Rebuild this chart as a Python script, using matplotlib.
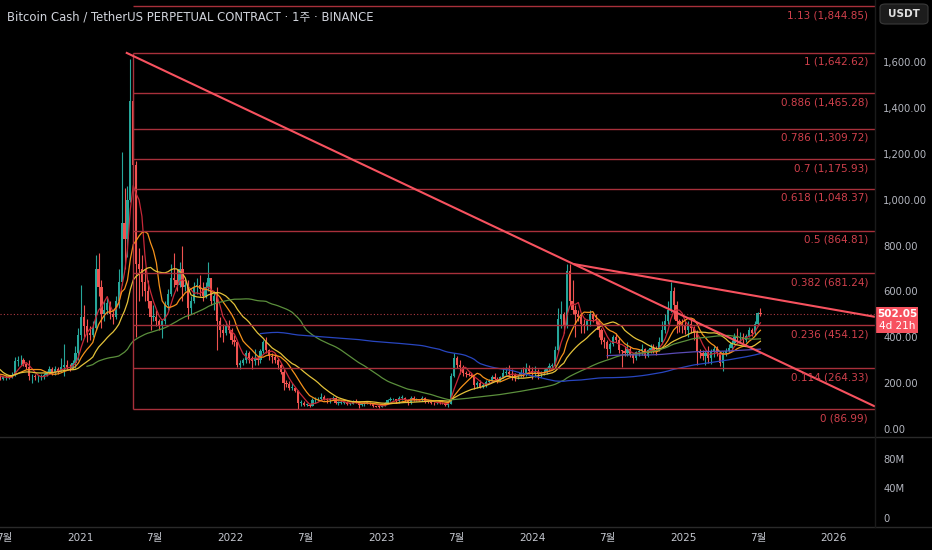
import matplotlib
matplotlib.use("Agg")
import matplotlib.pyplot as plt
import matplotlib.dates as mdates
from matplotlib.lines import Line2D
from matplotlib.patches import Rectangle, FancyBboxPatch
import numpy as np
import pandas as pd

##################################################
#-----------------Chart data----------------------
##################################################

first_week = "2019-12-02"      # weekly candles, Monday open
first_open = 215

closes = [
    210, 195, 190, 195, 235,                     # 2019 Dec
    270, 345, 330, 385,                          # 2020 Jan
    420, 460, 380, 330,                          # Feb
    250, 200, 220, 225, 240,                     # Mar
    240, 230, 250, 275,                          # Apr
    240, 235, 230, 245,                          # May
    240, 230, 225, 220, 225,                     # Jun
    225, 225, 235, 295,                          # Jul
    300, 300, 285, 270, 230,                     # Aug
    230, 225, 225, 230,                          # Sep
    235, 245, 260, 245,                          # Oct
    260, 255, 270, 280, 270,                     # Nov
    265, 290, 330, 410,                          # Dec
    490, 450, 420, 410,                          # 2021 Jan
    440, 700, 620, 500,                          # Feb
    520, 550, 500, 490, 560,                     # Mar
    640, 900, 830, 1000,                         # Apr
    1430, 1150, 720, 700, 640,                   # May
    600, 560, 490, 490,                          # Jun
    470, 450, 470, 540,                          # Jul
    590, 660, 650, 630, 700,                     # Aug
    620, 630, 530, 560,                          # Sep
    620, 630, 610, 580,                          # Oct
    620, 660, 560, 580, 470,                     # Nov
    430, 420, 450, 430,                          # Dec
    390, 380, 280, 290, 300,                     # 2022 Jan
    330, 310, 295, 310,                          # Feb
    300, 340, 380, 345,                          # Mar
    320, 315, 300, 280,                          # Apr
    250, 200, 195, 180, 180,                     # May
    165, 115, 115, 105,                          # Jun
    105, 100, 125, 125,                          # Jul
    130, 140, 130, 125, 130,                     # Aug
    135, 115, 115, 115,                          # Sep
    117, 110, 110, 120, 118,                     # Oct
    105, 108, 115, 115,                          # Nov
    110, 100, 98, 97,                            # Dec
    100, 115, 125, 130, 130,                     # 2023 Jan
    120, 135, 135, 125,                          # Feb
    115, 135, 125, 130,                          # Mar
    125, 135, 120, 118,                          # Apr
    115, 112, 115, 113, 112,                     # May
    105, 110, 230, 310,                          # Jun
    280, 270, 245, 240, 235,                     # Jul
    230, 190, 200, 185,                          # Aug
    190, 205, 210, 225,                          # Sep
    220, 210, 225, 245, 250,                     # Oct
    240, 235, 225, 230,                          # Nov
    245, 240, 265, 255,                          # Dec
    240, 250, 240, 245, 250,                     # 2024 Jan
    260, 275, 280, 345,                          # Feb
    480, 500, 450, 690,                          # Mar
    560, 520, 500, 490, 460,                     # Apr
    450, 470, 500, 480,                          # May
    470, 430, 390, 380,                          # Jun
    350, 370, 400, 390, 345,                     # Jul
    340, 330, 350, 325,                          # Aug
    310, 335, 340, 350, 320,                     # Sep
    345, 355, 345, 340,                          # Oct
    380, 430, 470, 520,                          # Nov
    600, 540, 470, 460, 450,                     # Dec
    430, 460, 440, 420,                          # 2025 Jan
    340, 330, 320, 330,                          # Feb
    310, 340, 350, 330, 290,                     # Mar
    330, 340, 355, 375,                          # Apr
    400, 395, 400, 390,                          # May
    405, 430, 420, 460, 505,                     # Jun
    502.05,                                      # Jul
]

highs = [
    235, 215, 200, 210, 245,
    285, 365, 360, 400,
    440, 500, 470, 390,
    350, 270, 240, 245, 255,
    255, 245, 255, 285,
    270, 255, 245, 250,
    265, 245, 235, 235, 230,
    235, 235, 250, 315,
    320, 325, 310, 290, 300,
    240, 240, 235, 240,
    245, 255, 275, 270,
    275, 270, 310, 370, 300,
    285, 300, 360, 440,
    630, 540, 480, 450,
    470, 760, 770, 650,
    560, 570, 560, 520, 580,
    700, 1210, 1050, 1060,
    1615, 1480, 1170, 790, 760,
    700, 650, 560, 540,
    520, 480, 480, 560,
    610, 720, 770, 700, 730,
    800, 660, 650, 580,
    640, 660, 670, 640,
    640, 730, 660, 600, 620,
    490, 460, 470, 475,
    440, 410, 385, 300, 310,
    345, 340, 320, 350,
    320, 350, 390, 400,
    350, 330, 330, 310,
    290, 260, 215, 210, 200,
    185, 170, 125, 120,
    115, 110, 135, 140,
    140, 155, 150, 135, 135,
    145, 140, 120, 125,
    122, 120, 115, 125, 130,
    120, 112, 118, 120,
    118, 112, 102, 102,
    105, 118, 130, 140, 135,
    132, 145, 150, 140,
    130, 145, 142, 135,
    132, 145, 140, 125,
    120, 118, 118, 118, 118,
    115, 115, 245, 330,
    320, 300, 280, 255, 250,
    245, 235, 210, 215,
    200, 215, 220, 235,
    245, 225, 230, 265, 270,
    280, 260, 245, 240,
    260, 270, 290, 280,
    270, 275, 260, 255, 260,
    270, 290, 290, 360,
    530, 560, 510, 720,
    720, 650, 540, 520, 500,
    480, 480, 520, 510,
    500, 480, 440, 400,
    390, 380, 410, 420, 400,
    345, 360, 380, 360,
    330, 340, 350, 370, 355,
    350, 370, 370, 360,
    400, 470, 500, 560,
    640, 620, 560, 480, 480,
    470, 470, 480, 450,
    430, 350, 345, 340,
    360, 350, 360, 360, 340,
    340, 355, 370, 390,
    420, 440, 425, 420,
    415, 445, 440, 470, 510,
    528,
]

lows = [
    200, 185, 170, 185, 190,
    225, 265, 310, 320,
    375, 400, 350, 310,
    240, 140, 185, 205, 215,
    220, 215, 220, 240,
    225, 220, 215, 225,
    235, 220, 215, 212, 212,
    215, 218, 222, 230,
    275, 280, 275, 260, 215,
    200, 215, 205, 215,
    220, 230, 240, 235,
    235, 240, 255, 230, 260,
    255, 260, 265, 300,
    390, 400, 380, 390,
    400, 430, 580, 440,
    470, 500, 480, 460, 480,
    530, 630, 700, 750,
    990, 1000, 400, 560, 580,
    560, 530, 430, 470,
    450, 430, 395, 460,
    520, 580, 620, 600, 620,
    560, 600, 480, 500,
    550, 590, 580, 560,
    570, 600, 540, 520, 345,
    400, 380, 410, 420,
    370, 360, 270, 260, 280,
    290, 290, 260, 280,
    280, 290, 330, 330,
    300, 290, 290, 260,
    240, 170, 185, 170, 170,
    160, 88, 100, 100,
    100, 95, 100, 115,
    120, 125, 125, 115, 115,
    125, 110, 105, 110,
    110, 105, 105, 108, 112,
    92, 100, 100, 110,
    106, 95, 95, 93,
    96, 100, 112, 120, 125,
    115, 115, 128, 118,
    105, 110, 120, 122,
    120, 122, 115, 112,
    110, 105, 110, 110, 108,
    100, 98, 108, 225,
    265, 240, 230, 225, 230,
    225, 175, 180, 180,
    180, 185, 200, 205,
    210, 200, 208, 222, 235,
    225, 215, 210, 220,
    225, 225, 230, 240,
    220, 225, 220, 225, 235,
    240, 255, 260, 275,
    340, 440, 420, 440,
    540, 500, 400, 470, 420,
    420, 430, 450, 465,
    460, 400, 370, 355,
    310, 330, 360, 380, 330,
    270, 320, 320, 315,
    290, 300, 320, 325, 310,
    315, 330, 330, 325,
    340, 370, 420, 460,
    510, 480, 420, 425, 420,
    415, 400, 420, 390,
    280, 310, 300, 280,
    290, 285, 315, 320, 275,
    255, 320, 335, 345,
    370, 385, 380, 375,
    380, 400, 405, 410, 455,
    495,
]

ma_windows = [5, 10, 20, 60, 120, 240]
ma_colors = ["#c62838", "#f5921b", "#e3c23a", "#5b8f3c", "#2846c0", "#5a4bb6"]

fib_ratios = [0, 0.114, 0.236, 0.382, 0.5, 0.618, 0.7, 0.786, 0.886, 1, 1.13]
fib_prices = [86.99, 264.33, 454.12, 681.24, 864.81, 1048.37, 1175.93,
              1309.72, 1465.28, 1642.62, 1844.85]
fib_start = "2021-05-10"

trend_down = (["2021-04-22", "2024-04-10"], [1642.62, 720])
trend_top = (["2024-04-10", "2025-07-07"], [720, 577])

price_ticks = [0, 200, 400, 600, 800, 1000, 1200, 1400, 1600]
vol_ticks = [0, 40e6, 80e6]
vol_labels = ["0", "40M", "80M"]
time_ticks = ["2020-07-01", "2021-01-01", "2021-07-01", "2022-01-01", "2022-07-01",
              "2023-01-01", "2023-07-01", "2024-01-01", "2024-07-01", "2025-01-01",
              "2025-07-01", "2026-01-01"]
time_labels = ["7월", "2021", "7월", "2022", "7월", "2023", "7월", "2024", "7월",
               "2025", "7월", "2026"]

title = "Bitcoin Cash / TetherUS PERPETUAL CONTRACT · 1주 · BINANCE"
countdown = "4d 21h"

##################################################
#-----------------Styling-------------------------
##################################################

BG = "#000000"
UP = "#26a69a"
DOWN = "#ef5350"
TXT = "#b2b5be"
GRID = "#2a2a2a"
FIB = "#a8303b"
FIB_TXT = "#d0404c"
TREND = "#f7525f"
FONT = ["DejaVu Sans", "Noto Sans CJK KR"]

plt.rcParams["font.family"] = FONT

W, H = 932, 550
fig = plt.figure(figsize=(W / 100, H / 100), dpi=100, facecolor=BG)
ax = fig.add_axes([0, 113 / H, 875 / W, 437 / H], facecolor=BG)
vax = fig.add_axes([0, 23 / H, 875 / W, 90 / H], facecolor=BG, sharex=ax)

dates = pd.date_range(first_week, periods=len(closes), freq="7D")
x = mdates.date2num(dates)
c = np.array(closes, dtype=float)
o = np.array([first_open] + closes[:-1], dtype=float)
hi = np.array(highs, dtype=float)
lo = np.array(lows, dtype=float)

# candles
col = np.where(c >= o, UP, DOWN)
ax.vlines(x, lo, hi, colors=col, lw=0.8, zorder=2)
body = np.maximum(np.abs(c - o), 3)
ax.bar(x, body, bottom=np.minimum(o, c), width=5.4, color=col, lw=0, zorder=2)

# moving averages
s = pd.Series(c, index=x)
for w, mc in zip(ma_windows, ma_colors):
    ma = s.rolling(w, min_periods=w).mean()
    ax.plot(x, ma.values, color=mc, lw=0.9, zorder=3)

# pixel scale of the time axis: 2021-01-01 sits at 80 px, 150.8 px per year
day_px = 150.8 / 365.25
x_ref = mdates.date2num(pd.Timestamp("2021-01-01"))
x_left = x_ref - 80 / day_px
x_right = x_ref + 795 / day_px
ax.set_xlim(x_left, x_right)
ax.set_ylim(-34.9, 1871.7)

# fib retracement
fx = mdates.date2num(pd.Timestamp(fib_start))
for r, p in zip(fib_ratios, fib_prices):
    ax.hlines(p, fx, x_right, color=FIB, lw=1.0, zorder=4)
    ax.annotate(f"{r:g} ({p:,.2f})", xy=(1, p), xycoords=("axes fraction", "data"),
                xytext=(-5, -3), textcoords="offset points", ha="right", va="top",
                fontsize=7.5, color=FIB_TXT, zorder=6)
ax.vlines(fx, fib_prices[0], fib_prices[-2], color=FIB, lw=1.0, zorder=4)

# trend lines, extended to the right edge
for d, p in (trend_down, trend_top):
    tx = mdates.date2num(pd.to_datetime(d))
    slope = (p[1] - p[0]) / (tx[1] - tx[0])
    ax.plot([tx[0], x_right], [p[0], p[0] + slope * (x_right - tx[0])],
            color=TREND, lw=1.5, zorder=5, solid_capstyle="butt")

# last price line
last = closes[-1]
ax.axhline(last, color=TREND, lw=0.8, ls=(0, (1, 2)), alpha=0.7, zorder=4)

# axes styling
for a in (ax, vax):
    for sp in a.spines.values():
        sp.set_visible(False)
    a.yaxis.tick_right()
    a.tick_params(axis="y", length=0, pad=6, labelsize=7.2, colors=TXT)
ax.set_yticks(price_ticks)
ax.set_yticklabels([f"{v:,.2f}" for v in price_ticks])
ax.tick_params(axis="x", which="both", length=0, labelbottom=False)

vax.set_ylim(-12.2e6, 109.8e6)
vax.set_yticks(vol_ticks)
vax.set_yticklabels(vol_labels)
vax.set_xticks(mdates.date2num(pd.to_datetime(time_ticks)))
vax.set_xticklabels(time_labels)
vax.tick_params(axis="x", length=0, pad=4, labelsize=7.5, colors="#c4c7cf")

# pane separators
for yy in (437, 527):
    fig.add_artist(Line2D([0, 1], [1 - yy / H, 1 - yy / H], color=GRID, lw=1))
fig.add_artist(Line2D([875 / W, 875 / W], [1 - 527 / H, 1], color="#1a1a1a", lw=1))

# title
fig.text(7 / W, 1 - 17 / H, title, ha="left", va="center", fontsize=8.4, color="#d1d4dc")

# USDT button
fig.add_artist(FancyBboxPatch((880 / W, 1 - 24 / H), 48 / W, 20 / H,
                              boxstyle="round,pad=0,rounding_size=0.006",
                              transform=fig.transFigure, facecolor="#1c1c1c",
                              edgecolor="#3a3a3a", lw=0.8))
fig.text(904 / W, 1 - 14 / H, "USDT", ha="center", va="center", fontsize=7.5,
         color="#e0e0e0", fontweight="bold")

# last price label on the axis
fig.canvas.draw()
ypix = ax.transData.transform((x_left, last))[1]
fig.add_artist(Rectangle((876 / W, (ypix - 19) / H), 42 / W, 26 / H,
                         transform=fig.transFigure, facecolor=TREND, lw=0))
fig.text(897 / W, ypix / H, f"{last:.2f}", ha="center", va="center", fontsize=7.5,
         color="white", fontweight="bold")
fig.text(897 / W, (ypix - 12) / H, countdown, ha="center", va="center", fontsize=7.5,
         color="white")

fig.savefig("out.png", dpi=100, facecolor=BG)
